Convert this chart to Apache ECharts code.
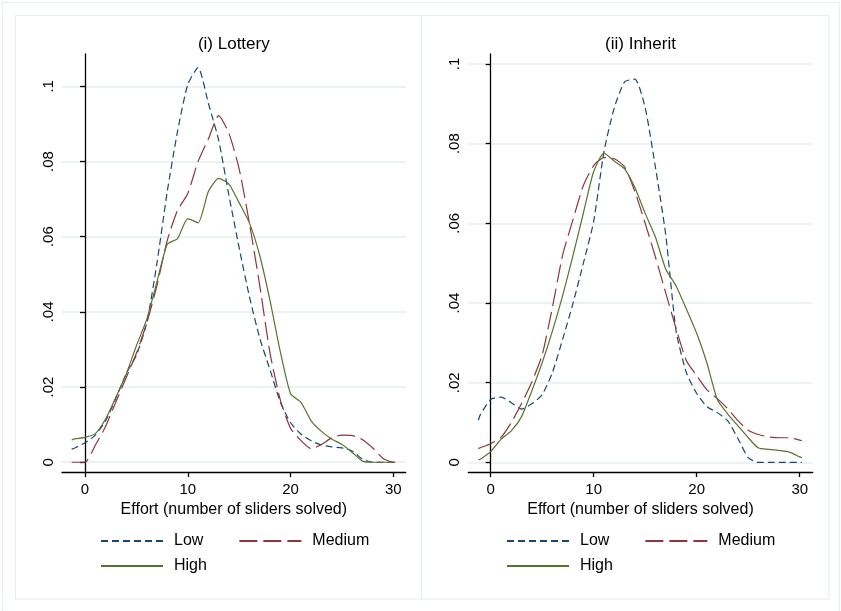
<!DOCTYPE html>
<html>
<head>
<meta charset="utf-8">
<script src="https://cdn.jsdelivr.net/npm/echarts@6.0.0/dist/echarts.min.js"></script>
<style>
  html, body { margin: 0; padding: 0; background: #ffffff; }
  #main { width: 841px; height: 611px; }
</style>
</head>
<body>
<div id="main"></div>
<script>
// effort grid (number of sliders solved) used by the density estimates
let lotteryX = [-1.3, -1, 0, 1, 2, 3, 4, 5, 6, 7, 8, 9, 10, 11, 12, 13, 14, 15, 16, 17, 18, 19, 20, 21, 22, 23, 24, 25, 26, 27, 28, 29, 30, 30.2];
let inheritX = [-1.2, -1, 0, 1, 2, 3, 4, 5, 6, 7, 8, 9, 10, 11, 12, 13, 14, 15, 16, 17, 18, 19, 20, 21, 22, 23, 24, 25, 26, 27, 28, 29, 30, 30.2];

// (i) Lottery densities
let lotteryLow = [0.0035, 0.0038, 0.0052, 0.0072, 0.011, 0.017, 0.0235, 0.0285, 0.037, 0.053, 0.072, 0.088, 0.1005, 0.105, 0.0955, 0.0857, 0.071, 0.057, 0.044, 0.033, 0.0246, 0.016, 0.0105, 0.0075, 0.0057, 0.0046, 0.0041, 0.0038, 0.003, 0.0008, 0, 0, 0, 0];
let lotteryMedium = [0, 0, 0, 0.0045, 0.0095, 0.016, 0.0225, 0.029, 0.037, 0.047, 0.059, 0.067, 0.0715, 0.08, 0.086, 0.0922, 0.0875, 0.078, 0.0635, 0.047, 0.029, 0.0166, 0.009, 0.0058, 0.0036, 0.0047, 0.0065, 0.0072, 0.0071, 0.006, 0.0038, 0.001, 0, 0];
let lotteryHigh = [0.0059, 0.0062, 0.0066, 0.0076, 0.0115, 0.0173, 0.0234, 0.031, 0.038, 0.048, 0.058, 0.0595, 0.0648, 0.0637, 0.072, 0.0755, 0.074, 0.069, 0.0636, 0.055, 0.043, 0.0294, 0.0182, 0.016, 0.011, 0.0082, 0.0062, 0.0047, 0.0026, 0.0003, 0, 0, 0, 0];

// (ii) Inherit densities
let inheritLow = [0.0106, 0.012, 0.0158, 0.0164, 0.015, 0.0134, 0.0147, 0.017, 0.0226, 0.031, 0.040, 0.050, 0.0605, 0.078, 0.089, 0.0955, 0.0962, 0.089, 0.074, 0.057, 0.033, 0.0225, 0.0173, 0.014, 0.0125, 0.0105, 0.006, 0.0012, 0, 0, 0, 0, 0, 0];
let inheritMedium = [0.0035, 0.0037, 0.0047, 0.0063, 0.010, 0.0148, 0.0202, 0.027, 0.039, 0.0522, 0.061, 0.0695, 0.0745, 0.0765, 0.0762, 0.0742, 0.068, 0.060, 0.0515, 0.0425, 0.0336, 0.0255, 0.0218, 0.0182, 0.016, 0.0135, 0.0105, 0.0081, 0.007, 0.0064, 0.0062, 0.0062, 0.0056, 0.0055];
let inheritHigh = [0.0006, 0.0008, 0.0027, 0.0058, 0.0079, 0.0115, 0.018, 0.025, 0.033, 0.042, 0.052, 0.0626, 0.073, 0.0776, 0.0756, 0.0737, 0.069, 0.0625, 0.0565, 0.0485, 0.0443, 0.0385, 0.0324, 0.0249, 0.0158, 0.0122, 0.0092, 0.0062, 0.0036, 0.0033, 0.003, 0.0026, 0.0014, 0.0012];

let xTicks = [0, 10, 20, 30];
let yTicks = [0, 0.02, 0.04, 0.06, 0.08, 0.1];
let groupNames = ['Low', 'Medium', 'High'];
let panelTitles = ['(i) Lottery', '(ii) Inherit'];
let xTitle = 'Effort (number of sliders solved)';

let chart = echarts.init(document.getElementById('main'), null, { renderer: 'canvas' });

const FONT = 'Liberation Sans';
const colors = { Low: '#1a476f', Medium: '#90353b', High: '#55752f' };
const dashes = { Low: [7, 4], Medium: [18, 6], High: 'solid' };
const gridColor = '#e6eef1';

function pairs(xs, ys) {
  return xs.map(function (x, i) { return [x, ys[i]]; });
}

function stataNum(v) {
  if (v === 0) return '0';
  return String(+v.toFixed(2)).replace(/^0/, '');
}

function makeX(idx, min, max) {
  return {
    type: 'value',
    gridIndex: idx,
    min: min,
    max: max,
    name: xTitle,
    nameLocation: 'middle',
    nameGap: 30,
    nameTextStyle: { fontFamily: FONT, fontSize: 16, color: '#000' },
    axisLine: { onZero: false, lineStyle: { color: '#000', width: 1.3 } },
    axisTick: { length: 5, customValues: xTicks, lineStyle: { color: '#000', width: 1.3 } },
    axisLabel: { customValues: xTicks, margin: 10, fontFamily: FONT, fontSize: 15, color: '#000' },
    splitLine: { show: false }
  };
}

function makeY(idx, min, max) {
  return {
    type: 'value',
    gridIndex: idx,
    min: min,
    max: max,
    axisLine: { show: true, lineStyle: { color: '#000', width: 1.3 } },
    axisTick: { show: true, length: 5, customValues: yTicks, lineStyle: { color: '#000', width: 1.3 } },
    axisLabel: {
      customValues: yTicks,
      rotate: 90,
      margin: 6,
      fontFamily: FONT,
      fontSize: 15,
      color: '#000',
      formatter: stataNum
    },
    splitLine: { show: true, lineStyle: { color: gridColor, width: 1.5 } }
  };
}

function makeSeries(name, idx, xs, ys) {
  return {
    name: name,
    type: 'line',
    xAxisIndex: idx,
    yAxisIndex: idx,
    symbol: 'none',
    smooth: 0.2,
    lineStyle: { color: colors[name], width: 1.2, type: dashes[name] },
    itemStyle: { color: colors[name] },
    data: pairs(xs, ys)
  };
}

function makeLegend(names, left, top) {
  return {
    data: names,
    left: left,
    top: top,
    itemWidth: 62,
    itemHeight: 16,
    itemGap: 35,
    padding: 0,
    itemStyle: { opacity: 0 },
    textStyle: { fontFamily: FONT, fontSize: 16, color: '#000', padding: [0, 0, 0, 6] }
  };
}

let option = {
  backgroundColor: '#ffffff',
  animation: false,
  title: [
    { text: panelTitles[0], left: 233.8, top: 36, textAlign: 'center', padding: 0,
      textStyle: { fontFamily: FONT, fontSize: 17, fontWeight: 'normal', color: '#000' } },
    { text: panelTitles[1], left: 640.5, top: 36, textAlign: 'center', padding: 0,
      textStyle: { fontFamily: FONT, fontSize: 17, fontWeight: 'normal', color: '#000' } }
  ],
  graphic: [
    { type: 'rect', shape: { x: 2.5, y: 2.5, width: 837, height: 640 }, style: { fill: 'none', stroke: gridColor, lineWidth: 1.2 }, silent: true },
    { type: 'rect', shape: { x: 15.5, y: 15.5, width: 406, height: 583.5 }, style: { fill: 'none', stroke: gridColor, lineWidth: 1.2 }, silent: true },
    { type: 'rect', shape: { x: 421.5, y: 15.5, width: 407.5, height: 583.5 }, style: { fill: 'none', stroke: gridColor, lineWidth: 1.2 }, silent: true }
  ],
  legend: [
    makeLegend(['Low', 'Medium'], 100, 533),
    makeLegend(['High'], 100, 558),
    makeLegend(['Low', 'Medium'], 506, 533),
    makeLegend(['High'], 506, 558)
  ],
  grid: [
    { left: 62, top: 54, width: 343.7, height: 418 },
    { left: 468.3, top: 54, width: 344.4, height: 418 }
  ],
  xAxis: [makeX(0, -2.24, 31.2), makeX(1, -2.17, 31.26)],
  yAxis: [makeY(0, -0.0026, 0.1086), makeY(1, -0.0024, 0.1025)],
  series: [
    makeSeries('Low', 0, lotteryX, lotteryLow),
    makeSeries('Medium', 0, lotteryX, lotteryMedium),
    makeSeries('High', 0, lotteryX, lotteryHigh),
    makeSeries('Low', 1, inheritX, inheritLow),
    makeSeries('Medium', 1, inheritX, inheritMedium),
    makeSeries('High', 1, inheritX, inheritHigh)
  ]
};

chart.setOption(option);
</script>
</body>
</html>
